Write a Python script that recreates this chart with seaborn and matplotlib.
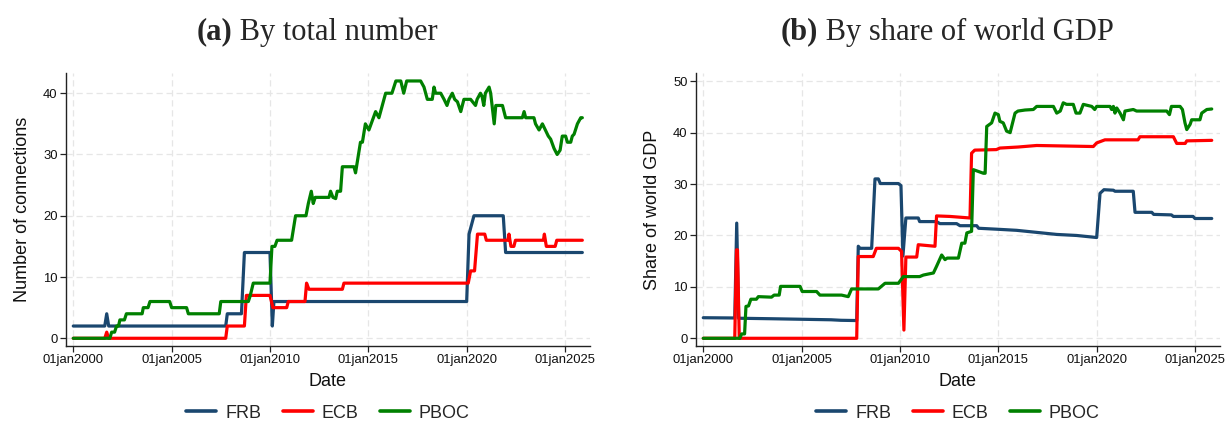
import matplotlib
matplotlib.use("Agg")
import matplotlib.pyplot as plt
from matplotlib.lines import Line2D
import seaborn as sns
import pandas as pd

# ---------------- data ----------------
banks = ["FRB", "ECB", "PBOC"]
colors = ["#1a476f", "#ff0000", "#008000"]
year_ticks = [2000, 2005, 2010, 2015, 2020, 2025]
tick_labels = ["01jan2000", "01jan2005", "01jan2010", "01jan2015", "01jan2020", "01jan2025"]

# Panel (a): number of connections
frb_a_t = [2000.0, 2001.6, 2001.7, 2001.8, 2007.75, 2007.83, 2008.55, 2008.7, 2010.0, 2010.12,
           2010.2, 2020.0, 2020.12, 2020.37, 2021.86, 2021.98, 2025.88]
frb_a_v = [2, 2, 4, 2, 2, 4, 4, 14, 14, 2, 6, 6, 17, 20, 20, 14, 14]

ecb_a_t = [2000.0, 2001.6, 2001.7, 2001.8, 2007.75, 2007.83, 2008.7, 2008.8, 2010.0, 2010.15,
           2010.85, 2010.93, 2011.78, 2011.86, 2011.98, 2013.68, 2013.76, 2020.08, 2020.2, 2020.4,
           2020.55, 2020.92, 2021.0, 2022.1, 2022.15, 2022.25, 2022.4, 2022.48, 2023.9, 2023.95,
           2024.05, 2024.5, 2024.58, 2025.88]
ecb_a_v = [0, 0, 1, 0, 0, 2, 2, 7, 7, 5, 5, 6, 6, 9, 8, 8, 9, 9, 11, 11, 17, 17, 16, 16, 17, 15,
           15, 16, 16, 17, 15, 15, 16, 16]

pboc_a_t = [2000.0, 2001.86, 2001.95, 2002.1, 2002.2, 2002.3, 2002.37, 2002.6, 2002.7, 2003.5,
            2003.56, 2003.8, 2003.9, 2004.9, 2005.0, 2005.76, 2005.85, 2007.42, 2007.5, 2008.9,
            2009.0, 2009.15, 2010.0, 2010.1, 2010.25, 2010.36, 2011.1, 2011.3, 2011.83, 2011.95,
            2012.1, 2012.2, 2012.3, 2013.0, 2013.08, 2013.2, 2013.34, 2013.42, 2013.59, 2013.68,
            2014.27, 2014.35, 2014.45, 2014.6, 2014.7, 2014.85, 2015.03, 2015.2, 2015.37, 2015.54,
            2015.71, 2015.88, 2016.2, 2016.4, 2016.65, 2016.8, 2016.95, 2017.66, 2017.83, 2018.0,
            2018.25, 2018.34, 2018.42, 2018.68, 2018.85, 2019.0, 2019.1, 2019.27, 2019.39, 2019.53,
            2019.7, 2019.86, 2020.2, 2020.45, 2020.53, 2020.7, 2020.78, 2020.87, 2020.95, 2021.14,
            2021.22, 2021.4, 2021.48, 2021.82, 2021.9, 2021.98, 2022.83, 2022.92, 2023.0, 2023.42,
            2023.5, 2023.68, 2023.85, 2024.0, 2024.15, 2024.27, 2024.44, 2024.6, 2024.75, 2024.86,
            2025.03, 2025.12, 2025.29, 2025.37, 2025.46, 2025.63, 2025.8, 2025.88]
pboc_a_v = [0, 0, 1, 1, 2, 2, 3, 3, 4, 4,
            5, 5, 6, 6, 5, 5, 4, 4, 6, 6,
            7, 9, 9, 15, 15, 16, 16, 20, 20, 22,
            24, 22, 23, 23, 24, 23, 22.8, 24, 24, 28,
            28, 27, 29, 32, 32, 35, 34, 35.5, 37, 36,
            38, 40, 40, 42, 42, 40, 42, 42, 41, 39,
            39, 41, 40, 40, 39, 38, 39, 40, 39, 38.6,
            37, 39, 39, 38, 39, 40, 39.5, 38, 40, 41,
            40, 35, 38, 38, 37, 36, 36, 37, 36, 36,
            35, 34, 35, 34, 33, 32.5, 31, 30, 30.7, 33,
            33, 32, 32, 33, 33.3, 35, 36, 36]

# Panel (b): share of world GDP
frb_b_t = [2000.0, 2001.6, 2001.7, 2001.8, 2003.5, 2005.0, 2006.5, 2007.0, 2007.8, 2007.88,
           2007.97, 2008.56, 2008.73, 2008.9, 2009.0, 2009.92, 2010.05, 2010.15, 2010.3, 2010.93,
           2011.0, 2011.86, 2012.03, 2012.88, 2013.05, 2013.9, 2014.0, 2015.0, 2015.93, 2016.95,
           2017.97, 2018.98, 2020.0, 2020.17, 2020.37, 2020.85, 2020.93, 2021.86, 2021.95, 2022.8,
           2022.9, 2023.8, 2023.9, 2024.9, 2025.0, 2025.85]
frb_b_v = [4.0, 3.95, 22.4, 3.9, 3.8, 3.7, 3.6, 3.5, 3.45, 17.9,
           17.5, 17.5, 31.0, 31.0, 30.1, 30.1, 29.7, 16.0, 23.4, 23.4,
           22.7, 22.7, 22.3, 22.3, 21.9, 21.9, 21.4, 21.2, 21.0, 20.6,
           20.2, 20.0, 19.6, 28.2, 28.9, 28.8, 28.6, 28.6, 24.5, 24.5,
           24.1, 24.0, 23.7, 23.7, 23.3, 23.3]

ecb_b_t = [2000.0, 2001.6, 2001.69, 2001.74, 2001.83, 2007.8, 2007.88, 2008.64, 2008.8, 2009.92,
           2010.08, 2010.2, 2010.3, 2010.85, 2010.93, 2011.78, 2011.86, 2012.54, 2013.56, 2013.64,
           2013.8, 2014.9, 2015.08, 2016.0, 2016.95, 2019.83, 2020.0, 2020.42, 2022.1, 2022.2,
           2023.9, 2024.07, 2024.5, 2024.58, 2025.85]
ecb_b_v = [0, 0, 17.2, 17.2, 0, 0, 15.9, 15.9, 17.5, 17.5,
           16.9, 1.6, 15.8, 15.8, 18.2, 17.9, 23.8, 23.7, 23.4, 36.0,
           36.6, 36.7, 37.0, 37.2, 37.5, 37.3, 38.0, 38.6, 38.6, 39.2,
           39.2, 37.9, 37.9, 38.4, 38.5]

pboc_b_t = [2000.0, 2001.86, 2001.95, 2002.1, 2002.17, 2002.3, 2002.42, 2002.7, 2002.8, 2003.47,
            2003.6, 2003.86, 2003.93, 2004.92, 2005.03, 2005.76, 2005.93, 2007.03, 2007.37, 2007.54,
            2008.9, 2009.24, 2009.92, 2010.17, 2011.0, 2011.19, 2011.44, 2011.7, 2011.86, 2012.12,
            2012.29, 2012.4, 2012.97, 2013.14, 2013.3, 2013.4, 2013.64, 2013.73, 2014.24, 2014.33,
            2014.41, 2014.66, 2014.83, 2015.0, 2015.08, 2015.25, 2015.42, 2015.6, 2015.85, 2016.0,
            2016.36, 2016.78, 2016.95, 2017.8, 2017.97, 2018.15, 2018.3, 2018.47, 2018.81, 2018.95,
            2019.15, 2019.32, 2019.75, 2019.9, 2020.0, 2020.68, 2020.76, 2020.85, 2020.93, 2021.02,
            2021.19, 2021.36, 2021.44, 2021.86, 2022.03, 2023.56, 2023.7, 2023.8, 2024.24, 2024.36,
            2024.49, 2024.58, 2024.75, 2024.83, 2025.25, 2025.34, 2025.6, 2025.85]
pboc_b_v = [0, 0, 0.85, 0.85, 6.2, 6.3, 7.6, 7.6, 8.1, 8.0,
            8.4, 8.4, 10.1, 10.1, 9.1, 9.1, 8.4, 8.4, 8.1, 9.6,
            9.6, 10.7, 10.7, 12.0, 12.0, 12.3, 12.5, 12.7, 14.0, 16.2,
            15.3, 15.6, 15.6, 18.5, 18.5, 20.5, 20.8, 32.8, 32.1, 32.1,
            41.2, 41.9, 43.8, 43.5, 42.2, 41.9, 40.3, 40.0, 43.8, 44.2,
            44.4, 44.5, 45.1, 45.1, 43.8, 44.2, 45.8, 45.5, 45.5, 43.8,
            43.8, 45.5, 45.1, 44.5, 45.1, 45.1, 44.5, 45.1, 43.8, 44.8,
            43.8, 42.5, 44.2, 44.5, 44.2, 44.2, 43.5, 45.1, 45.1, 44.5,
            41.9, 40.6, 41.6, 42.5, 42.5, 43.8, 44.5, 44.6]


def long_frame(series):
    parts = []
    for name, t, v in series:
        parts.append(pd.DataFrame({"t": t, "v": v, "bank": name}))
    return pd.concat(parts, ignore_index=True)


df_a = long_frame([("FRB", frb_a_t, frb_a_v), ("ECB", ecb_a_t, ecb_a_v), ("PBOC", pboc_a_t, pboc_a_v)])
df_b = long_frame([("FRB", frb_b_t, frb_b_v), ("ECB", ecb_b_t, ecb_b_v), ("PBOC", pboc_b_t, pboc_b_v)])

# ---------------- style ----------------
sns.set_theme(style="white")
plt.rcParams["font.family"] = ["Liberation Sans", "DejaVu Sans"]

fig = plt.figure(figsize=(12.3, 4.22), dpi=100)
W, H = 1230, 422
ax_a = fig.add_axes([66 / W, (H - 346) / H, 524 / W, 273 / H])
ax_b = fig.add_axes([696 / W, (H - 346) / H, 524 / W, 273 / H])

palette = dict(zip(banks, colors))

panels = [
    (ax_a, df_a, "Number of connections", [0, 10, 20, 30, 40], (-1.26, 43.3)),
    (ax_b, df_b, "Share of world GDP", [0, 10, 20, 30, 40, 50], (-1.5, 51.6)),
]

for ax, df, ylab, yticks, ylim in panels:
    sns.lineplot(data=df, x="t", y="v", hue="bank", hue_order=banks, palette=palette,
                 sort=False, estimator=None, linewidth=2.3, ax=ax, legend=False)
    ax.set_xlim(1999.63, 2026.27)
    ax.set_ylim(*ylim)
    ax.set_xticks(year_ticks)
    ax.set_xticklabels(tick_labels)
    ax.set_yticks(yticks)
    ax.grid(True, color="#e6e6e6", linestyle=(0, (5, 3)), linewidth=0.9)
    ax.set_axisbelow(True)
    for s in ["top", "right"]:
        ax.spines[s].set_visible(False)
    for s in ["left", "bottom"]:
        ax.spines[s].set_color("#222222")
        ax.spines[s].set_linewidth(1.0)
    ax.tick_params(axis="both", which="major", direction="out", length=4, width=0.9,
                   color="#222222", labelsize=9.4, pad=2, left=True, bottom=True,
                   labelcolor="#111111")
    ax.set_xlabel("Date", fontsize=13, labelpad=5, color="#111111")
    ax.set_ylabel(ylab, fontsize=13, labelpad=9, color="#111111")
    handles = [Line2D([0], [0], color=c, lw=2.6) for c in colors]
    ax.legend(handles, banks, loc="center", bbox_to_anchor=(0.5, -(413 - 346) / 273), ncol=3,
              frameon=False, fontsize=13, handlelength=1.65, handletextpad=0.5,
              columnspacing=1.2, borderpad=0.2)

# Titles: bold panel letter + serif regular text
serif = ["Liberation Serif", "DejaVu Serif"]
tsize = 22
for cx, letter, text in [(316, "(a)", " By total number"), (946, "(b)", " By share of world GDP")]:
    full = fig.text(cx / W, 1 - 32 / H, letter + text, fontsize=tsize, family=serif,
                    ha="center", va="center", alpha=0)
    fig.canvas.draw()
    bb = full.get_window_extent()
    x0 = bb.x0 / W
    t1 = fig.text(x0, 1 - 32 / H, letter, fontsize=tsize, family=serif, fontweight="bold",
                  ha="left", va="center")
    fig.canvas.draw()
    bb1 = t1.get_window_extent()
    fig.text(bb1.x1 / W, 1 - 32 / H, text, fontsize=tsize, family=serif, ha="left", va="center")
    full.remove()

fig.savefig("out.png", dpi=100)
